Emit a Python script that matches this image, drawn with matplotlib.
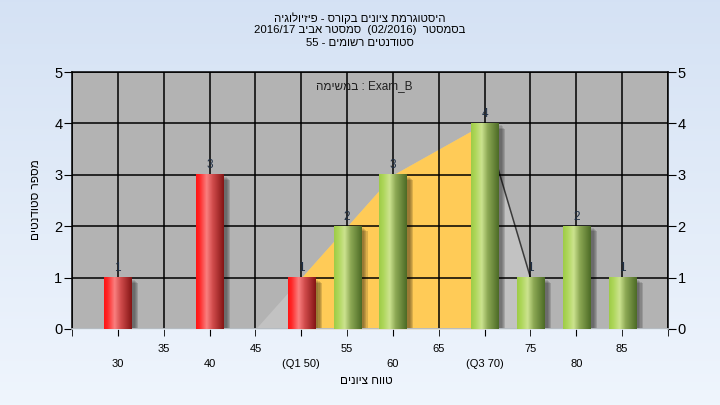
import re
import numpy as np
import matplotlib
matplotlib.use("Agg")
import matplotlib.pyplot as plt
from matplotlib.patches import Rectangle

plt.rcParams['font.family'] = ['Liberation Sans', 'DejaVu Sans']

# ---------------- data ----------------
bins = [30, 35, 40, 45, 50, 55, 60, 65, 70, 75, 80, 85]
counts = [1, 0, 3, 0, 1, 2, 3, 0, 4, 1, 2, 1]
pass_grade = 55
curve_x = [45, 50, 55, 60, 70, 75]
curve_y = [0, 1, 2, 3, 4, 1]
q1, q3 = 50, 70
major_ticks = [30, 40, 50, 60, 70, 80]
major_labels = ['30', '40', '(Q1 50)', '60', '(Q3 70)', '80']
minor_ticks = [25, 35, 45, 55, 65, 75, 85, 90]
minor_labels = ['', '35', '45', '55', '65', '75', '85', '']
title_lines = ['היסטוגרמת ציונים בקורס - פיזיולוגיה',
               'בסמסטר  (02/2016)  סמסטר אביב 2016/17',
               'סטודנטים רשומים - 55']
task_word = 'במשימה'
task_name = 'Exam_B'
ylabel = 'מספר סטודנטים'
xlabel = 'טווח ציונים'


def vis(s):
    """Convert logical RTL text to visual order for LTR rendering."""
    r = s[::-1]
    r = re.sub(r'[A-Za-z0-9_/.]+', lambda m: m.group(0)[::-1], r)
    return r.translate(str.maketrans('()', ')('))


W, H = 720, 405
fig = plt.figure(figsize=(7.2, 4.05), dpi=100)

# background gradient
bg = fig.add_axes([0, 0, 1, 1], zorder=-10)
top_c = np.array([0.835, 0.886, 0.957])
bot_c = np.array([0.937, 0.961, 0.992])
t = np.linspace(0, 1, 256)[:, None]
grad = top_c[None, None, :] * (1 - t[..., None]) + bot_c[None, None, :] * t[..., None]
grad = np.repeat(grad, 2, axis=1)
bg.imshow(grad, aspect='auto', extent=[0, 1, 0, 1], origin='upper')
bg.axis('off')

L, R, T, B = 72, 668, 72, 329
ax = fig.add_axes([L / W, 1 - B / H, (R - L) / W, (B - T) / H])
ax.set_facecolor('#b3b3b3')
xmin, xmax = 25, 90
ymin, ymax = 0, 5

# curve areas
cx = np.array(curve_x, float)
cy = np.array(curve_y, float)
ax.fill_between(cx, 0, cy, color='#c2c2c2', zorder=1, lw=0)
mask = (cx >= q1) & (cx <= q3)
ax.fill_between(cx[mask], 0, cy[mask], color='#ffcb57', zorder=1.1, lw=0)
ax.plot(cx[cx >= q3], cy[cx >= q3], color='#3a3a3a', lw=1.1, zorder=1.2)

# grid
for gx in range(25, 91, 5):
    ax.axvline(gx, color='black', lw=1.1, zorder=1.5)
for gy in range(0, 6):
    ax.axhline(gy, color='black', lw=1.1, zorder=1.5)


def bar_colors(low):
    if low:
        stops = [(0.0, (1.0, 0.08, 0.08)), (0.12, (1.0, 0.15, 0.15)),
                 (0.38, (0.98, 0.50, 0.50)), (0.6, (0.82, 0.30, 0.30)),
                 (1.0, (0.52, 0.08, 0.08))]
    else:
        stops = [(0.0, (0.62, 0.80, 0.28)), (0.15, (0.68, 0.84, 0.35)),
                 (0.38, (0.80, 0.89, 0.56)), (0.6, (0.55, 0.66, 0.33)),
                 (1.0, (0.30, 0.42, 0.15))]
    xs = np.linspace(0, 1, 64)
    pos = [s[0] for s in stops]
    arr = np.zeros((1, 64, 3))
    for c in range(3):
        arr[0, :, c] = np.interp(xs, pos, [s[1][c] for s in stops])
    return arr


bw = 2.95
for b, c in zip(bins, counts):
    if c <= 0:
        continue
    # shadow
    for k, a in enumerate([0.10, 0.10, 0.12, 0.14]):
        off = 0.15 + 0.12 * k
        ax.add_patch(Rectangle((b - bw / 2 + off + 0.25, 0), bw, c - 0.04 - 0.02 * k,
                               facecolor='black', alpha=a, lw=0, zorder=2))
    ax.imshow(bar_colors(b < pass_grade), aspect='auto',
              extent=[b - bw / 2, b + bw / 2, 0, c], zorder=3,
              interpolation='bilinear')
    ax.text(b, c + 0.07, str(c), ha='center', va='bottom', fontsize=8.5,
            color='#1f2f45', zorder=4)

ax.set_xlim(xmin, xmax)
ax.set_ylim(ymin, ymax)
ax.set_aspect('auto')

for sp in ax.spines.values():
    sp.set_color('black')
    sp.set_linewidth(1.1)
ax.spines['bottom'].set_color('#e0e8f0')

ax.set_xticks(major_ticks)
ax.set_xticklabels(major_labels, fontsize=8)
ax.set_xticks(minor_ticks, minor=True)
ax.set_xticklabels(minor_labels, minor=True, fontsize=8)
ax.tick_params(axis='x', which='major', length=5, pad=16.5, color='black')
ax.tick_params(axis='x', which='minor', length=5, pad=5.5, color='black')
ax.set_yticks(range(0, 6))
ax.tick_params(axis='y', which='both', left=True, right=True, labelleft=True,
               labelright=True, length=6, labelsize=10.5, pad=1, color='black')

# texts
fs_title = 8.2
fig.text(0.5, 1 - 18 / H, vis(title_lines[0]), ha='center', va='center', fontsize=fs_title)
fig.text(0.5, 1 - 30 / H, vis(title_lines[1]), ha='center', va='center', fontsize=fs_title)
fig.text(0.5, 1 - 43 / H, vis(title_lines[2]), ha='center', va='center', fontsize=fs_title)
ax.text(0.49, 0.945, vis(task_word) + ' : ' + task_name, transform=ax.transAxes,
        ha='center', va='center', fontsize=8.5, color='#202020', zorder=5)
fig.text(36 / W, 1 - 200 / H, vis(ylabel), rotation=90, ha='center', va='center', fontsize=8.5)
fig.text(366 / W, 1 - 381 / H, vis(xlabel), ha='center', va='center', fontsize=8.5)

fig.savefig('out.png', dpi=100)
